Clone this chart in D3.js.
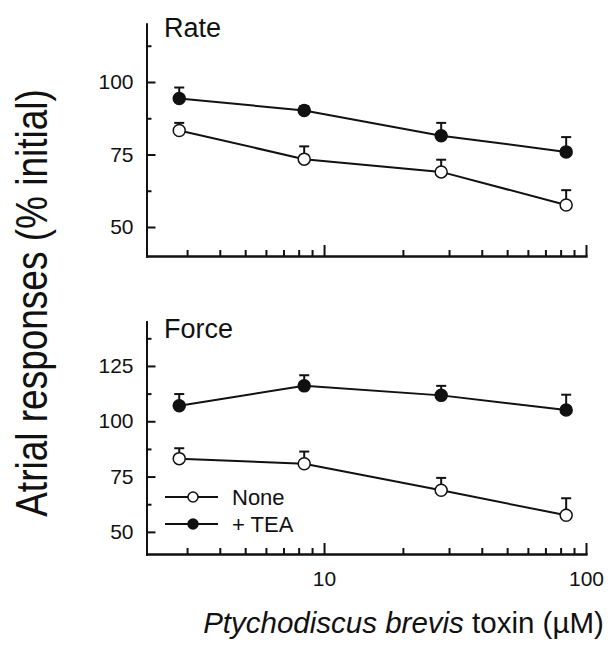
<!DOCTYPE html>
<html>
<head>
<meta charset="utf-8">
<script src="https://cdn.jsdelivr.net/npm/d3@7"></script>
<style>
  body { margin: 0; background: #fff; }
  svg { display: block; font-family: "Liberation Sans", Arial, sans-serif; }
  .axis path, .axis line { stroke: #111; stroke-width: 2; }
  .axis text { font-size: 21px; fill: #111; font-family: "Liberation Sans", Arial, sans-serif; }
</style>
</head>
<body>
<div id="chart"></div>
<script>
// toxin concentrations (uM)
const doses = [2.8, 8.4, 28, 84];

// Rate panel
const rateNone = [83.3, 73.4, 69.0, 57.6];
const rateNoneErr = [2.6, 4.4, 4.2, 5.1];
const rateTea = [94.3, 90.2, 81.5, 75.9];
const rateTeaErr = [3.8, 1.5, 4.4, 5.1];

// Force panel
const forceNone = [83.1, 80.8, 68.8, 57.5];
const forceNoneErr = [4.7, 5.5, 5.6, 7.7];
const forceTea = [107.0, 116.0, 111.7, 105.1];
const forceTeaErr = [5.3, 4.8, 4.3, 6.9];

const xMajor = [10, 100];
const xMinor = [3, 4, 5, 6, 7, 8, 9, 20, 30, 40, 50, 60, 70, 80, 90];
const rateTicks = [50, 75, 100];
const rateMinor = [62.5, 87.5, 112.5];
const forceTicks = [50, 75, 100, 125];
const forceMinor = [62.5, 87.5, 112.5, 137.5];

const legendNames = ["None", "+ TEA"];

const W = 614, H = 645;
const svg = d3.select('#chart').append('svg')
    .attr('width', W)
    .attr('height', H);

const x = d3.scaleLog().domain([2.1, 100]).range([146.5, 586]);

const panels = [
    { title: "Rate", titleY: 37, domain: [40, 120], range: [256, 24], ticks: rateTicks, minor: rateMinor,
      none: rateNone, noneErr: rateNoneErr, tea: rateTea, teaErr: rateTeaErr, xLabels: false },
    { title: "Force", titleY: 337.5, domain: [40, 145], range: [554, 321.7], ticks: forceTicks, minor: forceMinor,
      none: forceNone, noneErr: forceNoneErr, tea: forceTea, teaErr: forceTeaErr, xLabels: true }
];

panels.forEach(p => {
    const y = d3.scaleLinear().domain(p.domain).range(p.range);
    const g = svg.append('g');
    const yBase = p.range[0];

    // y axis, ticks pointing inward
    g.append('g').attr('class', 'axis')
        .attr('transform', 'translate(' + x.range()[0] + ',0)')
        .call(d3.axisLeft(y).tickValues(p.ticks).tickSize(-9).tickSizeOuter(0).tickPadding(13));
    g.append('g').attr('class', 'axis')
        .attr('transform', 'translate(' + x.range()[0] + ',0)')
        .call(d3.axisLeft(y).tickValues(p.minor).tickSize(-5).tickSizeOuter(0).tickFormat(''));

    // x axis
    g.append('g').attr('class', 'axis')
        .attr('transform', 'translate(0,' + yBase + ')')
        .call(d3.axisBottom(x).tickValues(xMajor).tickSize(-11).tickSizeOuter(0).tickPadding(17)
            .tickFormat(p.xLabels ? d3.format('d') : ''));
    g.append('g').attr('class', 'axis')
        .attr('transform', 'translate(0,' + yBase + ')')
        .call(d3.axisBottom(x).tickValues(xMinor).tickSize(-6).tickSizeOuter(0).tickFormat(''));

    g.selectAll('.axis path').attr('stroke-linecap', 'square');

    // panel title
    g.append('text')
        .attr('x', 164)
        .attr('y', p.titleY)
        .attr('font-size', 27)
        .attr('fill', '#111')
        .text(p.title);

    const series = [
        { vals: p.none, err: p.noneErr, fill: '#fff' },
        { vals: p.tea, err: p.teaErr, fill: '#111' }
    ];

    const line = d3.line().x((d, i) => x(doses[i])).y(d => y(d));

    series.forEach(s => {
        g.append('path')
            .datum(s.vals)
            .attr('d', line)
            .attr('fill', 'none')
            .attr('stroke', '#111')
            .attr('stroke-width', 2);

        // upward error bars
        const eb = g.append('g').selectAll('g').data(s.vals).join('g');
        eb.append('line')
            .attr('x1', (d, i) => x(doses[i])).attr('x2', (d, i) => x(doses[i]))
            .attr('y1', d => y(d)).attr('y2', (d, i) => y(d + s.err[i]))
            .attr('stroke', '#111').attr('stroke-width', 2);
        eb.append('line')
            .attr('x1', (d, i) => x(doses[i]) - 5).attr('x2', (d, i) => x(doses[i]) + 5)
            .attr('y1', (d, i) => y(d + s.err[i])).attr('y2', (d, i) => y(d + s.err[i]))
            .attr('stroke', '#111').attr('stroke-width', 2);

        g.append('g').selectAll('circle').data(s.vals).join('circle')
            .attr('cx', (d, i) => x(doses[i]))
            .attr('cy', d => y(d))
            .attr('r', 6)
            .attr('fill', s.fill)
            .attr('stroke', '#111')
            .attr('stroke-width', 1.5);
    });
});

// legend inside force panel
const legend = svg.append('g');
const legY = [497, 524];
legendNames.forEach((name, i) => {
    legend.append('line')
        .attr('x1', 165).attr('x2', 218)
        .attr('y1', legY[i]).attr('y2', legY[i])
        .attr('stroke', '#111').attr('stroke-width', 2);
    legend.append('circle')
        .attr('cx', 193).attr('cy', legY[i]).attr('r', 5)
        .attr('fill', i === 0 ? '#fff' : '#111')
        .attr('stroke', '#111').attr('stroke-width', 1.5);
    legend.append('text')
        .attr('x', 232).attr('y', legY[i] + 8)
        .attr('font-size', 22).attr('fill', '#111')
        .text(name);
});

// axis titles
svg.append('text')
    .attr('transform', 'translate(47,303) rotate(-90) scale(1,1.2)')
    .attr('text-anchor', 'middle')
    .attr('font-size', 37)
    .attr('fill', '#111')
    .text('Atrial responses (% initial)');

const xt = svg.append('text')
    .attr('x', 403.5)
    .attr('y', 633)
    .attr('text-anchor', 'middle')
    .attr('font-size', 29.5)
    .attr('fill', '#111');
xt.append('tspan').attr('font-style', 'italic').text('Ptychodiscus brevis');
xt.append('tspan').text(' toxin (µM)');
</script>
</body>
</html>
